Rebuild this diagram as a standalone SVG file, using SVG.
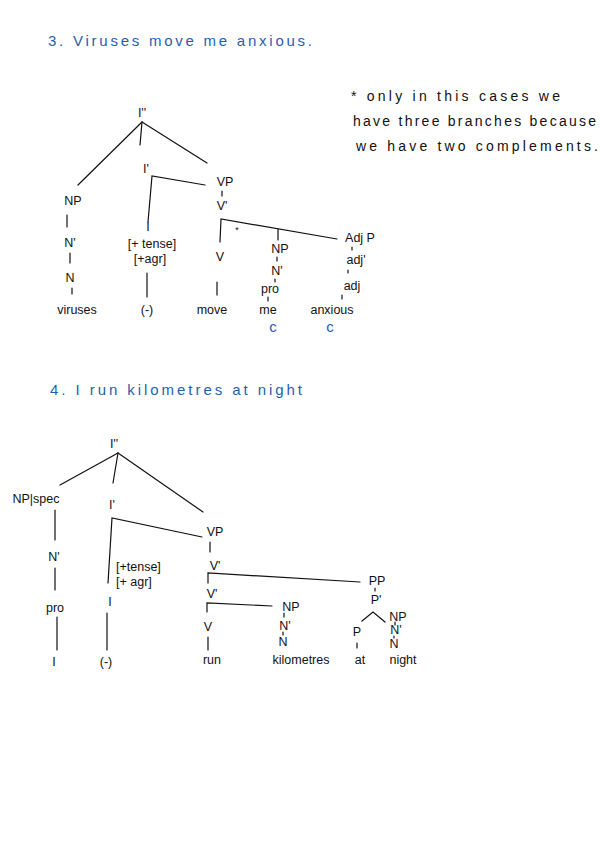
<svg xmlns="http://www.w3.org/2000/svg" width="600" height="848" viewBox="0 0 600 848">
<style>
text{font-family:"Liberation Sans","DejaVu Sans",sans-serif;font-size:12.5px;fill:#111}
.t{fill:#1f5fb0;font-size:15px}
.n{font-size:14px}
.c{fill:#1f5fb0;font-size:15px}
.m{text-anchor:middle}
line,polyline{stroke:#111;stroke-width:1.2;fill:none;stroke-linecap:round}
</style>
<rect width="600" height="848" fill="#fff"/>
<text class="t" x="48" y="46" textLength="264" lengthAdjust="spacing">3. Viruses move me anxious.</text>
<g id="note">
<text class="n" x="351" y="101" textLength="209" lengthAdjust="spacing">* only in this cases we</text>
<text class="n" x="353" y="126" textLength="243" lengthAdjust="spacing">have three branches because</text>
<text class="n" x="356" y="151" textLength="242" lengthAdjust="spacing">we have two complements.</text>
</g>
<g id="connectors">
<!-- tree 1 -->
<line x1="142" y1="122" x2="78" y2="185"/>
<line x1="142" y1="122" x2="140" y2="145"/>
<line x1="142" y1="122" x2="207" y2="163"/>
<line x1="67" y1="215" x2="67" y2="227"/>
<line x1="70" y1="253" x2="70" y2="263"/>
<line x1="72" y1="288" x2="72" y2="294"/>
<polyline points="205,185 152,176 148,222"/>
<line x1="147" y1="273" x2="147" y2="297"/>
<line x1="222" y1="191" x2="222" y2="196"/>
<polyline points="337,239 221,219 220,242"/>
<line x1="217" y1="282" x2="217" y2="295"/>
<line x1="278" y1="229" x2="278" y2="240"/>
<line x1="277" y1="257" x2="277" y2="261"/>
<line x1="275" y1="279" x2="275" y2="282"/>
<line x1="268" y1="297" x2="268" y2="301"/>
<line x1="352" y1="247" x2="352" y2="250"/>
<line x1="348" y1="270" x2="348" y2="273"/>
<line x1="342" y1="295" x2="342" y2="299"/>
<!-- tree 2 -->
<line x1="118" y1="453" x2="60" y2="485"/>
<line x1="118" y1="453" x2="113" y2="483"/>
<line x1="118" y1="453" x2="203" y2="512"/>
<line x1="55" y1="510" x2="55" y2="540"/>
<line x1="55" y1="568" x2="55" y2="590"/>
<line x1="57" y1="617" x2="57" y2="650"/>
<polyline points="202,537 112,518 108,583"/>
<line x1="107" y1="613" x2="107" y2="650"/>
<line x1="210" y1="542" x2="210" y2="552"/>
<polyline points="360,582 208,573 208,583"/>
<polyline points="272,606 207,603 207,612"/>
<line x1="208" y1="637" x2="208" y2="650"/>
<line x1="375" y1="588" x2="375" y2="591"/>
<polyline points="362,621 373,612 385,622"/>
<line x1="357" y1="643" x2="357" y2="648"/>
<line x1="284" y1="613" x2="284" y2="617"/>
<line x1="283" y1="632" x2="283" y2="635"/>
<line x1="395" y1="622" x2="395" y2="625"/>
<line x1="394" y1="636" x2="394" y2="638"/>
</g>
<g id="tree1">
<g id="n-I2"><text class="m" x="142" y="117">I''</text></g>
<g id="n-Ibar"><text class="m" x="146" y="173">I'</text></g>
<g id="n-NP1"><text class="m" x="73" y="205">NP</text></g>
<g id="n-Nbar1"><text class="m" x="70" y="247">N'</text></g>
<g id="n-N1"><text class="m" x="70" y="282">N</text></g>
<g id="n-viruses"><text class="m" x="77" y="314">viruses</text></g>
<g id="n-I1"><text class="m" x="148" y="231">I</text></g>
<g id="n-tense1"><text class="m" x="152" y="248">[+ tense]</text></g>
<g id="n-agr1"><text class="m" x="150" y="263">[+agr]</text></g>
<g id="n-empty1"><text class="m" x="147" y="314">(-)</text></g>
<g id="n-VP1"><text class="m" x="225" y="186">VP</text></g>
<g id="n-Vbar1"><text class="m" x="222" y="210">V'</text></g>
<g id="n-star"><text class="m" x="237" y="233" style="font-size:9px">*</text></g>
<g id="n-V1"><text class="m" x="220" y="261">V</text></g>
<g id="n-move"><text class="m" x="212" y="314">move</text></g>
<g id="n-NP2"><text class="m" x="280" y="253">NP</text></g>
<g id="n-Nbar2"><text class="m" x="277" y="275">N'</text></g>
<g id="n-pro1"><text class="m" x="270" y="293">pro</text></g>
<g id="n-me"><text class="m" x="268" y="314">me</text></g>
<g id="n-c1"><text class="c m" x="273" y="332">c</text></g>
<g id="n-AdjP"><text class="m" x="360" y="242">Adj P</text></g>
<g id="n-adjbar"><text class="m" x="356" y="264">adj'</text></g>
<g id="n-adj"><text class="m" x="352" y="290">adj</text></g>
<g id="n-anxious"><text class="m" x="332" y="314">anxious</text></g>
<g id="n-c2"><text class="c m" x="330" y="332">c</text></g>
</g>
<text class="t" x="50" y="395" textLength="252" lengthAdjust="spacing">4. I run kilometres at night</text>
<g id="tree2">
<g id="m-I2"><text class="m" x="114" y="448">I''</text></g>
<g id="m-NPspec"><text class="m" x="36" y="503">NP|spec</text></g>
<g id="m-Nbar"><text class="m" x="54" y="561">N'</text></g>
<g id="m-pro"><text class="m" x="55" y="612">pro</text></g>
<g id="m-I"><text class="m" x="54" y="666">I</text></g>
<g id="m-Ibar"><text class="m" x="112" y="509">I'</text></g>
<g id="m-tense"><text x="116" y="571">[+tense]</text></g>
<g id="m-agr"><text x="116" y="586">[+ agr]</text></g>
<g id="m-Iin"><text class="m" x="110" y="606">I</text></g>
<g id="m-empty"><text class="m" x="106" y="666">(-)</text></g>
<g id="m-VP"><text class="m" x="215" y="536">VP</text></g>
<g id="m-Vbar1"><text class="m" x="215" y="570">V'</text></g>
<g id="m-Vbar2"><text class="m" x="212" y="598">V'</text></g>
<g id="m-V"><text class="m" x="208" y="631">V</text></g>
<g id="m-run"><text class="m" x="212" y="664">run</text></g>
<g id="m-NP"><text class="m" x="291" y="611">NP</text></g>
<g id="m-Nbar2"><text class="m" x="285" y="630">N'</text></g>
<g id="m-N2"><text class="m" x="283" y="646">N</text></g>
<g id="m-kilometres"><text class="m" x="301" y="664">kilometres</text></g>
<g id="m-PP"><text class="m" x="377" y="585">PP</text></g>
<g id="m-Pbar"><text class="m" x="376" y="604">P'</text></g>
<g id="m-P"><text class="m" x="357" y="636">P</text></g>
<g id="m-at"><text class="m" x="360" y="664">at</text></g>
<g id="m-NP3"><text class="m" x="398" y="621">NP</text></g>
<g id="m-Nbar3"><text class="m" x="396" y="634">N'</text></g>
<g id="m-N3"><text class="m" x="394" y="648">N</text></g>
<g id="m-night"><text class="m" x="403" y="664">night</text></g>
</g>
</svg>
